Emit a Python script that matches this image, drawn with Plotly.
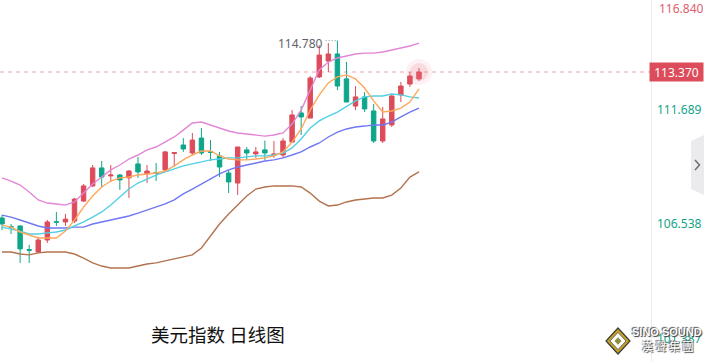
import plotly.graph_objects as go

# ---------------- data ----------------
opens  = [106.81,106.42,106.45,105.39,105.28,105.82,106.64,106.63,106.67,107.57,
          108.25,109.06,108.70,108.74,108.61,109.24,108.79,108.84,108.97,109.71,
          110.09,109.73,110.40,109.79,109.60,108.83,108.38,109.87,109.69,109.87,
          109.62,109.64,110.22,111.53,111.30,113.15,113.86,114.18,113.06,111.84,
          112.25,111.62,110.27,110.99,112.34,112.83,113.06]
highs  = [106.94,106.54,106.49,105.60,105.96,106.72,107.08,106.99,107.71,108.34,
          109.19,109.37,109.19,108.79,108.97,109.55,109.19,109.28,109.82,109.78,
          110.40,110.63,110.85,110.31,109.78,108.97,110.00,110.00,110.00,110.29,
          110.27,110.40,111.66,111.84,113.19,114.58,114.67,114.78,113.82,112.74,
          112.47,111.93,111.80,112.34,112.92,113.37,113.55]
lows   = [106.27,106.09,104.79,104.79,105.24,105.69,106.45,106.45,106.58,107.53,
          108.20,108.16,108.43,108.07,107.71,108.61,108.38,108.47,108.92,109.10,
          109.78,109.64,109.64,109.37,108.65,107.93,107.84,109.42,109.51,109.42,
          109.51,109.51,110.18,110.54,111.30,113.10,113.37,112.56,112.02,111.66,
          111.57,110.18,110.18,110.90,112.02,112.70,112.97]
closes = [106.54,106.40,105.42,105.36,105.82,106.63,106.62,106.76,107.66,108.25,
          109.06,108.65,108.74,108.52,108.92,108.88,108.92,108.82,109.78,109.75,
          109.91,110.31,109.73,109.76,109.10,108.43,110.00,109.73,109.78,109.73,
          109.69,110.27,111.44,111.35,113.10,114.13,114.18,112.74,112.02,112.25,
          111.71,110.27,111.26,112.29,112.74,113.19,113.37]

ma_orange = [106.49,106.40,106.18,106.05,105.91,105.91,105.91,106.22,106.72,107.30,
             107.80,108.20,108.47,108.61,108.65,108.74,108.79,108.83,108.92,109.15,
             109.42,109.64,109.82,109.82,109.60,109.46,109.42,109.42,109.46,109.51,
             109.60,109.78,110.22,110.81,111.66,112.34,112.88,113.15,113.24,113.06,
             112.65,112.07,111.57,111.62,111.75,112.02,112.61]
ma_cyan   = [106.40,106.31,106.22,106.09,106.09,106.14,106.18,106.27,106.45,106.63,
             106.85,107.08,107.39,107.75,108.11,108.38,108.56,108.74,108.88,109.01,
             109.15,109.24,109.33,109.42,109.46,109.51,109.51,109.55,109.60,109.60,
             109.64,109.73,109.96,110.36,110.85,111.17,111.39,111.57,111.84,112.07,
             112.25,112.29,112.29,112.38,112.34,112.25,112.20]
ma_blue   = [106.94,106.85,106.72,106.58,106.45,106.36,106.36,106.36,106.40,106.40,
             106.54,106.63,106.72,106.81,106.90,107.03,107.17,107.30,107.44,107.62,
             107.89,108.11,108.34,108.56,108.79,108.97,109.10,109.19,109.28,109.37,
             109.42,109.51,109.64,109.78,110.00,110.18,110.45,110.67,110.81,110.90,
             110.94,110.99,110.99,111.12,111.35,111.57,111.75]
band_upper = [108.61,108.47,108.29,107.98,107.62,107.48,107.44,107.39,107.53,107.93,
              108.34,108.65,108.97,109.19,109.46,109.64,109.87,110.00,110.22,110.45,
              110.76,111.08,111.12,110.99,110.85,110.72,110.63,110.58,110.54,110.49,
              110.54,110.63,111.03,111.66,112.56,113.46,113.82,114.00,114.09,114.18,
              114.22,114.22,114.27,114.36,114.45,114.54,114.67]
band_lower = [105.28,105.28,105.19,105.15,105.24,105.28,105.28,105.28,105.19,105.01,
              104.79,104.65,104.56,104.56,104.56,104.65,104.74,104.79,104.88,104.97,
              105.06,105.15,105.46,106.00,106.54,106.99,107.39,107.80,108.11,108.20,
              108.25,108.25,108.25,108.20,107.93,107.57,107.35,107.39,107.53,107.62,
              107.66,107.71,107.71,107.84,108.16,108.65,108.88]

tick_vals = [101.387, 106.538, 111.689]
tick_text = ["101.387", "106.538", "111.689"]
top_label = "116.840"
last_price = 113.370
peak_label = "114.780"
peak_value = 114.780
peak_index = 37
title_text = "美元指数 日线图"

idx = list(range(len(opens)))

# ---------------- styles ----------------
RED = "#dd4c5a"
GREEN = "#0ea68a"
W, H = 704, 362
PLOT_R = 652
NUMFONT = "Noto Sans"

fig = go.Figure()

# glow around the last candle
fig.add_trace(go.Scatter(x=[idx[-1]], y=[closes[-1]], mode="markers",
                         marker=dict(size=26, color="rgba(235,120,135,0.10)"),
                         hoverinfo="skip", showlegend=False))
fig.add_trace(go.Scatter(x=[idx[-1]], y=[closes[-1]], mode="markers",
                         marker=dict(size=18, color="rgba(235,120,135,0.18)"),
                         hoverinfo="skip", showlegend=False))

fig.add_trace(go.Candlestick(
    x=idx, open=opens, high=highs, low=lows, close=closes,
    increasing=dict(line=dict(color=RED, width=1), fillcolor=RED),
    decreasing=dict(line=dict(color=GREEN, width=1), fillcolor=GREEN),
    whiskerwidth=0, showlegend=False, hoverinfo="skip"))

for series, color in [(band_lower, "#b3734e"), (band_upper, "#e286d6"),
                      (ma_blue, "#6f78f2"), (ma_cyan, "#52d0e4"),
                      (ma_orange, "#ffa75a")]:
    fig.add_trace(go.Scatter(x=idx, y=series, mode="lines",
                             line=dict(color=color, width=1.4),
                             hoverinfo="skip", showlegend=False))

# ---------------- layout ----------------
x_lo = -2 / 9.065
x_hi = x_lo + PLOT_R / 9.065
y_top = last_price + 72 * 0.04494
y_bot = y_top - H * 0.04494

fig.update_layout(
    width=W, height=H, margin=dict(l=0, r=0, t=0, b=0),
    paper_bgcolor="white", plot_bgcolor="white",
    xaxis=dict(domain=[0, PLOT_R / W], range=[x_lo, x_hi], visible=False,
               rangeslider=dict(visible=False), fixedrange=True),
    yaxis=dict(range=[y_bot, y_top], side="right", showgrid=False,
               zeroline=False, showline=False, ticks="",
               tickvals=tick_vals, ticktext=tick_text,
               tickfont=dict(family=NUMFONT, size=12, color="#13a389"),
               ticklabelstandoff=4, fixedrange=True),
)

shapes = []
# separator of price axis
shapes.append(dict(type="line", xref="paper", yref="paper",
                   x0=651.5 / W, x1=651.5 / W, y0=0, y1=1,
                   line=dict(color="#ececec", width=1)))
# last price dotted line
shapes.append(dict(type="line", xref="paper", yref="y",
                   x0=0, x1=PLOT_R / W, y0=last_price, y1=last_price,
                   line=dict(color="#f4c4ca", width=1.5, dash="4px,4px"),
                   layer="below"))
# peak marker dotted connector
shapes.append(dict(type="line", xref="x", yref="y",
                   x0=peak_index - 1.3, x1=peak_index, y0=peak_value, y1=peak_value,
                   line=dict(color="#8a8d96", width=1, dash="1px,2px")))
# side tab
def px(x):
    return x / W
def py(y):
    return 1 - y / H
tab = (f"M {px(704)} {py(135)} L {px(691)} {py(141)} L {px(691)} {py(189)} "
       f"L {px(704)} {py(195)} Z")
shapes.append(dict(type="path", xref="paper", yref="paper", path=tab,
                   fillcolor="#ebebee", line=dict(width=0)))
chev = f"M {px(695)} {py(160)} L {px(699.5)} {py(165)} L {px(695)} {py(170)}"
shapes.append(dict(type="path", xref="paper", yref="paper", path=chev,
                   line=dict(color="#6a6d75", width=1.5)))
# logo diamond
def diamond(cx, cy, r, ry):
    return (f"M {px(cx)} {py(cy - ry)} L {px(cx + r)} {py(cy)} "
            f"L {px(cx)} {py(cy + ry)} L {px(cx - r)} {py(cy)} Z")
shapes.append(dict(type="path", xref="paper", yref="paper",
                   path=diamond(618, 341, 12, 13), fillcolor="#c3a22b",
                   line=dict(color="#3d3d35", width=1.2)))
shapes.append(dict(type="path", xref="paper", yref="paper",
                   path=diamond(618, 341, 8, 8.5), fillcolor="#ffffff",
                   line=dict(color="#555", width=0.8)))
shapes.append(dict(type="path", xref="paper", yref="paper",
                   path=diamond(618, 341, 3.5, 3.8), fillcolor="#8c8f3c",
                   line=dict(width=0)))

annotations = []
annotations.append(dict(xref="paper", yref="paper", x=657 / W, y=1, xanchor="left",
                        yanchor="top", text=top_label, showarrow=False,
                        font=dict(family=NUMFONT, size=12, color="#e0606c"),
                        yshift=2))
annotations.append(dict(xref="paper", yref="y", x=1, y=last_price, xanchor="right",
                        yanchor="middle", text=last_price and f"{last_price:.3f}",
                        showarrow=False, bgcolor=RED, width=53, height=18,
                        borderpad=0, font=dict(family=NUMFONT, size=12, color="white")))
annotations.append(dict(xref="x", yref="y", x=peak_index - 1.4, y=peak_value,
                        xanchor="right", yanchor="middle", text=peak_label,
                        showarrow=False, yshift=-3,
                        font=dict(family=NUMFONT, size=12, color="#5f626d")))
annotations.append(dict(xref="paper", yref="paper", x=218 / W, y=py(334),
                        xanchor="center", yanchor="middle", text=title_text,
                        showarrow=False,
                        font=dict(family="Noto Sans CJK SC", size=18.5, color="#111")))
annotations.append(dict(xref="paper", yref="paper", x=667 / W, y=py(332),
                        xanchor="center", yanchor="middle", text="<b>SINO SOUND</b>",
                        showarrow=False,
                        font=dict(family="Liberation Sans", size=11, color="white",
                                  shadow="1px 1px 1px #333, -1px -1px 1px #555")))
annotations.append(dict(xref="paper", yref="paper", x=667 / W, y=py(346),
                        xanchor="center", yanchor="middle", text="漢 聲 集 團",
                        showarrow=False,
                        font=dict(family="Noto Sans CJK TC", size=11, color="white",
                                  shadow="1px 1px 1px #333, -1px -1px 1px #555")))

fig.update_layout(shapes=shapes, annotations=annotations)
fig.write_html("out.html")
